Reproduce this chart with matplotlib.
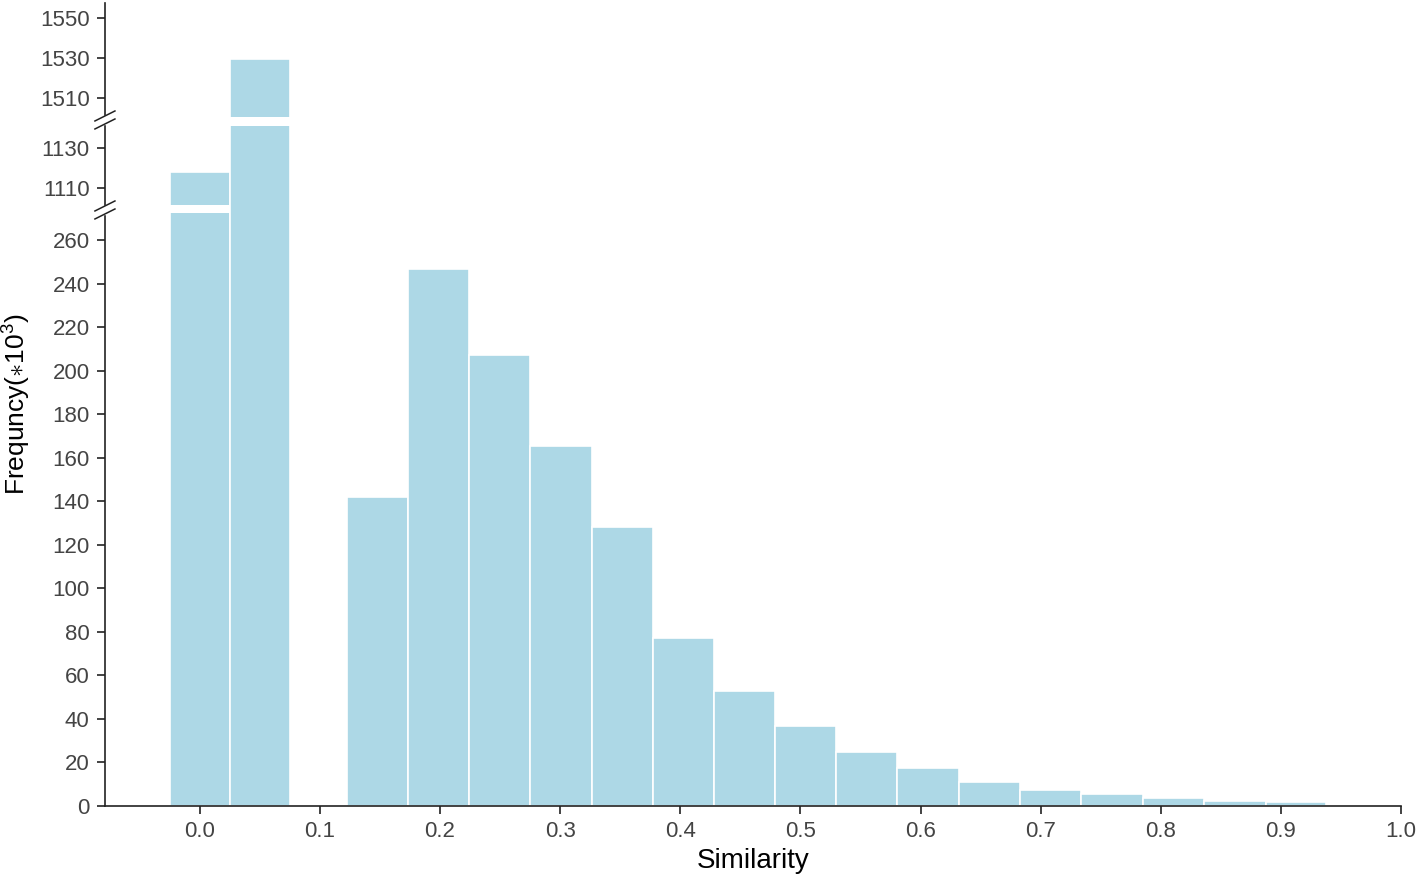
import numpy as np
import matplotlib.pyplot as plt

# --- DATA (frequency in thousands) ---
# histogram bin edges
bin_left = [-0.025, 0.025, 0.1226, 0.1729, 0.2240, 0.2748, 0.3261, 0.3771,
            0.4280, 0.4789, 0.5298, 0.5808, 0.6320, 0.6828, 0.7338, 0.7852,
            0.8362, 0.8873]
bin_right = [0.025, 0.075, 0.1729, 0.2240, 0.2748, 0.3261, 0.3771, 0.4280,
             0.4789, 0.5298, 0.5808, 0.6320, 0.6828, 0.7338, 0.7852, 0.8362,
             0.8873, 0.9373]
freq = [1118, 1529.5, 142.2, 246.7, 207.5, 165.7, 128.4, 77.3, 52.9,
        36.8, 24.8, 17.5, 11.0, 7.4, 5.4, 3.8, 2.4, 1.95]
y_ticks = [0, 20, 40, 60, 80, 100, 120, 140, 160, 180, 200, 220, 240, 260,
           1110, 1130, 1510, 1530, 1550]
x_ticks = [0.0, 0.1, 0.2, 0.3, 0.4, 0.5, 0.6, 0.7, 0.8, 0.9, 1.0]

# --- broken axis as a piecewise linear scale ---
seg_data = [0, 274, 1099, 1144, 1499, 1557.5]
seg_disp = [0, 596, 596.01, 686, 686.01, 803]
breaks = [274, 1144]          # data value where each break sits
# white gaps cut into bars: (bar index, low, high)
gaps = [(0, 272.4, 1101.5), (1, 1141, 1500.5)]

def forward(y):
    return np.interp(y, seg_data, seg_disp)

def inverse(y):
    return np.interp(y, seg_disp, seg_data)

BAR_COLOR = '#add8e6'
TXT = '#444444'
plt.rcParams['font.family'] = ['Liberation Sans', 'DejaVu Sans']
plt.rcParams['mathtext.fontset'] = 'custom'
plt.rcParams['mathtext.rm'] = 'Liberation Sans'
plt.rcParams['mathtext.it'] = 'Liberation Sans'

fig = plt.figure(figsize=(14.18, 8.77), dpi=100)
ax = fig.add_axes([0.074, 0.081, 0.914, 0.9156])
ax.set_yscale('function', functions=(forward, inverse))

widths = np.array(bin_right) - np.array(bin_left)
ax.bar(bin_left, freq, width=widths, align='edge', color=BAR_COLOR,
       edgecolor='white', linewidth=1.2, zorder=2)

for i, lo, hi in gaps:
    ax.bar(bin_left[i], hi - lo, bottom=lo, width=widths[i], align='edge',
           color='white', edgecolor='white', linewidth=0, zorder=3)

ax.set_xlim(-0.079, 1.0)
ax.set_ylim(0, 1557.5)
ax.set_yticks(y_ticks)
ax.set_yticklabels([str(t) for t in y_ticks])
ax.set_xticks(x_ticks)
ax.set_xticklabels([f'{t:.1f}' for t in x_ticks])
ax.minorticks_off()

for s in ['top', 'right']:
    ax.spines[s].set_visible(False)
for s in ['left', 'bottom']:
    ax.spines[s].set_color('#222222')
    ax.spines[s].set_linewidth(1.2)

ax.tick_params(axis='both', direction='out', length=6, width=1.2,
               color='#222222', labelsize=16, labelcolor=TXT, pad=5)

ax.set_xlabel('Similarity', fontsize=20, color='black', labelpad=4)
ax.set_ylabel(r'Frequncy($\ast10^3$)', fontsize=19, color='black', labelpad=5)

# break markers on the left spine
inv = ax.transAxes.inverted()
for b in breaks:
    yb = ax.transData.transform((0, b))[1]
    yc = inv.transform((0, yb))[1]
    h = 4 / ax.bbox.height
    # white block hiding the spine between the two slashes
    ax.fill([-0.004, 0.004, 0.004, -0.004], [yc - h, yc - h, yc + h, yc + h],
            transform=ax.transAxes, color='white', clip_on=False, zorder=5)
    dx = 10 / ax.bbox.width
    dy = 5 / ax.bbox.height
    for off in (-4, 4):
        o = off / ax.bbox.height
        ax.plot([-dx, dx], [yc + o - dy, yc + o + dy], transform=ax.transAxes,
                color='#222222', lw=1.1, clip_on=False, zorder=6)

plt.savefig('out.png', dpi=100)
